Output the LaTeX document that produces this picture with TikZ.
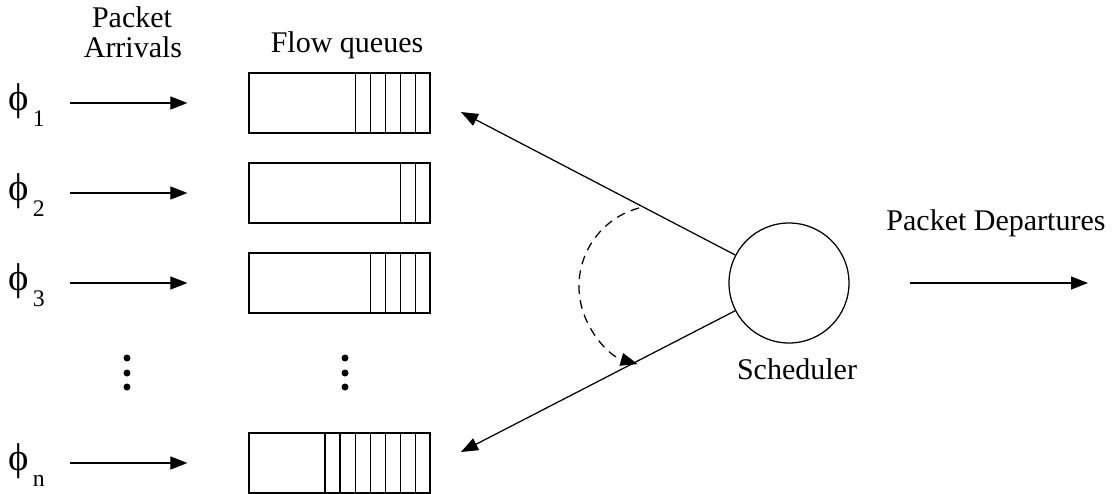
\documentclass[tikz,border=0pt]{standalone}
\usepackage{fontspec}
\setmainfont{Liberation Serif}
\usetikzlibrary{arrows.meta}

\newcommand{\flowlabel}[1]{{\fontsize{15.5}{16}\selectfont ϕ}\kern1.6pt\raisebox{-6.4pt}{\fontsize{9.5}{10}\selectfont #1}}

\tikzset{
  arr/.style={-{Triangle[length=6.8pt,width=5.2pt]}, line width=0.5pt},
  queue/.style={draw, rectangle, line width=0.5pt, minimum width=72.4pt, minimum height=24pt, inner sep=0pt}
}

\begin{document}
\begin{tikzpicture}[x=0.4pt,y=-0.4pt,font=\fontsize{12}{12}\selectfont]
      \useasboundingbox (0,0) rectangle (1116,494);

      \begin{scope}[every node/.style={anchor=base,inner sep=0pt}]
        \node (hdin1) at (132,27)  {Packet};
        \node (hdin2) at (133,57)  {Arrivals};
        \node (hdq)   at (347,52)  {Flow queues};
        \node (hdout) at (996,230) {Packet Departures};
        \node (hdsch) at (797,379) {Scheduler};
      \end{scope}

      \begin{scope}[every node/.style={anchor=base west,inner sep=0pt}]
        \node (f1) at (8,110) {\flowlabel{1}};
        \node (f2) at (8,200) {\flowlabel{2}};
        \node (f3) at (8,290) {\flowlabel{3}};
        \node (fn) at (8,470) {\flowlabel{n}};
      \end{scope}

      \begin{scope}[every node/.style={queue}]
        \node (q1) at (339.5,103) {};
        \node (q2) at (339.5,193) {};
        \node (q3) at (339.5,283) {};
        \node (qn) at (339.5,463) {};
      \end{scope}

      \foreach \q/\n in {q1/5,q2/2,q3/4,qn/7}
        \foreach \k in {1,...,\n}
          \draw[line width=0.5pt] (\q.north east) ++(-15.1*\k,0) -- ++(0,60);

      \node[circle,draw,line width=0.5pt,minimum size=48pt,inner sep=0pt] (sch) at (789,283) {};

      \coordinate (a1) at (70,103);
      \coordinate (a2) at (70,193);
      \coordinate (a3) at (70,283);
      \coordinate (an) at (70,463);
      \coordinate (t1) at (461,112);
      \coordinate (tn) at (461,452);
      \coordinate (out) at (1088,283);
      \coordinate (sw) at (639,208);

      \begin{scope}[every path/.style={arr}]
        \draw[shorten >=24.4pt] (a1) -- (q1.west);
        \draw[shorten >=24.4pt] (a2) -- (q2.west);
        \draw[shorten >=24.4pt] (a3) -- (q3.west);
        \draw[shorten >=24.4pt] (an) -- (qn.west);
        \draw (sch) -- (t1);
        \draw (sch) -- (tn);
        \draw[shorten <=24pt] (sch) -- (out);
        \draw[dash pattern=on 3.5pt off 2.5pt] (sw) arc[start angle=255,end angle=106,radius=81];
      \end{scope}

      \foreach \x in {127,345}
        \foreach \y in {358,373,387}
          \fill (\x,\y) circle[radius=3.5];

    \end{tikzpicture}
\end{document}
